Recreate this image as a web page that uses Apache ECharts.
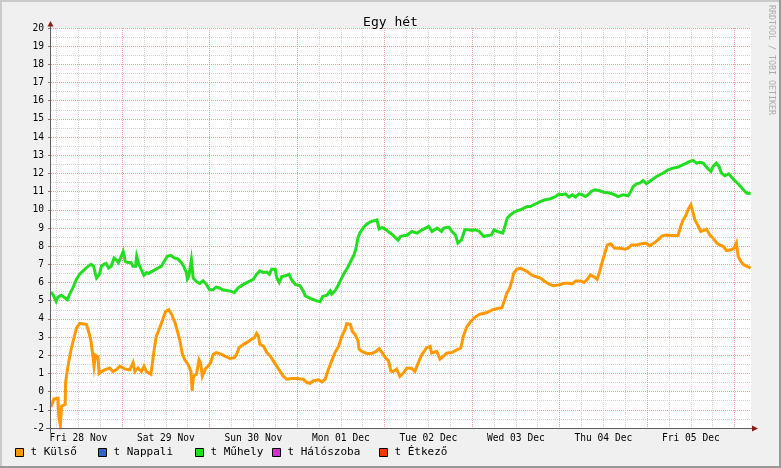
<!DOCTYPE html>
<html>
<head>
<meta charset="utf-8">
<script src="https://cdn.jsdelivr.net/npm/echarts@6/dist/echarts.min.js"></script>
<style>
html,body{margin:0;padding:0;background:#f0f0f0;}
#chart{width:781px;height:468px;}
</style>
</head>
<body>
<div id="chart"></div>
<script>
// hours since Fri 28 Nov 00:00
const kulsoHours = [4.5,5.0,5.3,6.4,6.6,7.06,7.4,8.4,8.5,9.0,9.6,10.1,10.8,11.5,12.4,14.2,14.7,15.4,16.0,16.3,16.7,17.4,17.7,18.3,19.2,20.6,21.5,22.4,23.4,24.7,26.1,27.0,27.5,28.4,29.3,30.0,30.7,31.9,32.2,32.8,33.4,34.3,35.3,35.9,36.8,37.6,38.5,39.2,39.8,40.5,41.2,42.1,42.9,43.2,43.6,44.4,45.1,45.5,46.0,46.5,47.0,47.6,48.3,49.0,49.9,51.3,52.2,53.6,54.8,55.4,56.1,57.3,58.4,59.5,60.3,60.9,61.4,61.8,62.8,63.7,64.6,65.5,66.4,67.3,68.2,69.2,70.5,71.9,73.7,74.7,75.6,76.5,77.9,78.8,79.7,80.6,81.5,82.4,83.4,84.3,85.2,85.6,86.6,87.2,87.9,88.7,89.0,89.9,91.1,92.5,93.6,94.5,95.3,96.2,97.1,97.7,98.4,99.3,100.2,101.1,102.1,103.4,104.3,105.2,106.2,107.5,108.5,108.9,110.3,111.2,112.1,113.0,114.4,115.8,116.9,117.6,118.5,119.4,120.8,122.0,124.1,125.5,126.9,128.2,129.0,129.6,130.3,131.0,131.4,132.2,133.3,134.2,135.1,136.3,137.4,138.8,140.0,141.1,142.4,143.8,145.2,146.6,147.5,148.4,149.8,150.7,151.6,152.5,153.6,154.3,155.0,155.6,156.4,157.1,158.0,159.1,160.5,161.9,162.8,163.7,165.1,166.4,167.8,168.7,169.2,170.1,171.0,172.1,173.3,174.7,176.5,177.2,177.9,178.6,179.3,180.0,180.4,181.1,182.0,182.7,183.4,184.3,185.2,186.1,187.0,187.9,188.9,189.8,191.0,191.9,192.5,193.0,193.7,194.6,195.6,196.4];
const kulsoValues = [-0.85,-0.8,-0.4,-0.35,-1.3,-1.85,-0.8,-0.7,0.5,1.2,1.9,2.4,2.95,3.5,3.75,3.7,3.4,2.85,1.95,1.4,2.0,1.9,1.0,1.1,1.2,1.3,1.1,1.2,1.4,1.25,1.2,1.6,1.1,1.3,1.1,1.4,1.1,0.95,1.4,2.3,3.05,3.5,4.05,4.4,4.5,4.25,3.8,3.3,2.85,2.1,1.75,1.5,1.1,0.05,0.85,0.95,1.75,1.6,0.85,0.75,1.3,1.4,1.6,2.05,2.15,2.05,1.95,1.82,1.87,2.05,2.42,2.6,2.72,2.88,2.97,3.2,3.06,2.6,2.5,2.15,1.96,1.69,1.4,1.13,0.85,0.68,0.72,0.72,0.68,0.5,0.46,0.6,0.65,0.53,0.68,1.23,1.69,2.15,2.5,3.06,3.43,3.74,3.7,3.3,3.15,2.8,2.33,2.2,2.1,2.1,2.2,2.37,2.15,1.87,1.69,1.13,1.11,1.24,0.84,1.02,1.29,1.29,1.11,1.57,2.03,2.4,2.49,2.12,2.21,1.79,1.94,2.12,2.15,2.3,2.4,3.04,3.55,3.8,4.1,4.25,4.35,4.5,4.57,4.62,5.1,5.45,5.69,6.15,6.51,6.73,6.79,6.7,6.61,6.42,6.33,6.24,6.06,5.91,5.82,5.87,5.96,5.96,5.93,6.09,6.09,6.0,6.18,6.42,6.29,6.18,6.61,7.06,7.61,8.07,8.13,7.89,7.89,7.83,7.89,8.07,8.07,8.13,8.17,8.02,7.94,8.2,8.35,8.57,8.62,8.59,8.59,9.08,9.45,9.67,10.04,10.28,10.0,9.45,9.12,8.81,8.86,8.94,8.62,8.44,8.2,8.07,7.98,7.76,7.8,7.89,8.17,7.43,7.16,6.97,6.88,6.79];

const muhelyHours = [4.5,5.0,5.9,6.4,7.3,7.8,8.4,9.0,9.6,10.5,11.4,12.3,13.6,14.4,15.5,16.2,16.6,17.0,17.8,18.3,19.0,19.6,20.3,21.0,21.8,22.4,23.0,23.8,24.3,24.9,25.6,26.4,27.0,27.7,28.0,28.6,29.3,30.0,30.7,31.3,32.1,33.0,33.9,34.8,35.5,36.4,37.3,38.4,39.3,40.2,40.9,41.6,41.9,42.3,43.0,43.5,44.4,45.3,46.2,47.1,48.0,48.9,49.8,50.7,51.6,53.0,53.6,54.8,55.9,57.3,58.6,60.0,60.9,61.8,62.8,63.7,64.4,65.0,66.0,66.4,67.1,67.8,68.9,69.8,70.4,71.5,72.8,73.7,74.2,75.1,76.2,77.4,78.3,79.0,80.2,81.1,81.5,82.4,83.4,84.3,85.0,85.6,86.3,87.0,87.5,88.1,88.7,89.3,90.2,91.1,92.1,93.0,93.9,94.5,95.3,96.2,97.1,98.0,98.9,99.7,100.3,101.2,102.1,103.5,104.9,106.3,108.1,109.0,110.4,111.6,112.2,113.6,114.5,115.4,116.1,117.1,118.0,119.1,120.0,120.9,122.0,123.2,124.1,125.3,126.0,126.9,128.4,129.0,129.6,130.5,131.4,132.4,133.3,134.2,135.1,136.0,136.9,137.9,138.8,140.1,141.5,142.9,143.8,144.7,145.6,146.6,147.5,148.4,149.3,150.2,151.1,151.8,152.7,153.6,155.0,156.4,157.7,159.1,160.0,161.4,162.8,163.5,164.2,165.1,166.0,166.9,167.8,168.7,169.6,170.6,171.5,172.4,173.8,175.1,176.5,177.9,178.8,179.7,180.6,181.6,182.5,183.4,184.0,184.8,185.5,186.1,187.0,187.7,188.4,189.3,190.4,191.4,192.3,193.2,194.4,195.3,196.4];
const muhelyValues = [5.47,5.35,4.97,5.2,5.3,5.4,5.15,5.05,5.35,5.7,6.15,6.45,6.7,6.85,7.0,6.9,6.55,6.25,6.45,6.9,7.0,7.05,6.8,6.9,7.35,7.25,7.1,7.45,7.7,7.15,7.1,7.1,6.9,6.9,7.45,7.0,6.7,6.4,6.55,6.5,6.6,6.7,6.8,6.9,7.15,7.45,7.5,7.35,7.3,7.1,6.9,6.55,6.2,6.35,7.25,6.25,6.05,5.95,6.1,5.9,5.6,5.6,5.75,5.7,5.6,5.55,5.54,5.45,5.72,5.9,6.04,6.18,6.46,6.64,6.55,6.58,6.46,6.73,6.73,6.28,6.0,6.33,6.37,6.46,6.18,5.9,5.82,5.54,5.27,5.18,5.08,4.99,4.94,5.23,5.3,5.54,5.36,5.54,5.9,6.28,6.55,6.73,7.0,7.28,7.47,7.83,8.48,8.75,9.03,9.21,9.34,9.39,9.45,8.94,9.03,8.94,8.79,8.66,8.48,8.33,8.53,8.57,8.6,8.81,8.72,8.9,9.08,8.81,8.99,8.81,8.99,9.05,8.81,8.62,8.17,8.35,8.9,8.9,8.86,8.9,8.81,8.53,8.57,8.62,8.9,8.81,8.72,9.08,9.54,9.72,9.85,9.96,10.0,10.09,10.18,10.18,10.28,10.37,10.46,10.55,10.61,10.73,10.86,10.83,10.88,10.7,10.83,10.7,10.88,10.83,10.73,10.83,11.01,11.1,11.05,10.95,10.92,10.83,10.73,10.83,10.77,11.01,11.28,11.43,11.47,11.61,11.43,11.56,11.69,11.83,11.93,12.02,12.2,12.29,12.35,12.48,12.57,12.66,12.72,12.57,12.61,12.57,12.42,12.24,12.11,12.39,12.57,12.39,12.02,11.87,11.98,11.74,11.56,11.38,11.1,10.92,10.88];

const seriesNames = ['t Külső','t Nappali','t Műhely','t Hálószoba','t Étkező'];
const seriesColors = ['#ff9900','#3366cc','#22dd22','#cc33cc','#ff3300'];
const legendLefts = [15,98,195,272,379];

const dayLabels = ['Fri 28 Nov','Sat 29 Nov','Sun 30 Nov','Mon 01 Dec','Tue 02 Dec','Wed 03 Dec','Thu 04 Dec','Fri 05 Dec'];
const noonHours = [12,36,60,84,108,132,156,180];
const midnightHours = [24,48,72,96,120,144,168,192];
const sixHourTicks = [6,12,18,30,36,42,54,60,66,78,84,90,102,108,114,126,132,138,150,156,162,174,180,186];
const xMin = 4.5, xMax = 196.5;
const yMin = -2, yMax = 20;

const FONT = 'DejaVu Sans Mono';

function zip(h, v){ return h.map((x,i)=>[x, v[i]]); }
const seriesData = [zip(kulsoHours,kulsoValues), [], zip(muhelyHours,muhelyValues), [], []];

const chart = echarts.init(document.getElementById('chart'), null, {renderer:'canvas'});

const option = {
  backgroundColor: '#f0f0f0',
  animation: false,
  title: {
    text: 'Egy hét', left: 'center', top: 11,
    textStyle: {fontFamily: FONT, fontSize: 13, fontWeight: 'normal', color: '#000'}
  },
  grid: {left: 51, top: 28, width: 700, height: 400, show: true, backgroundColor: '#ffffff', borderWidth: 0},
  xAxis: [
    {
      type: 'value', min: xMin, max: xMax, position: 'bottom',
      axisLine: {show: false},
      axisTick: {show: false, customValues: sixHourTicks},
      axisLabel: {show: false},
      splitLine: {show: true, lineStyle: {color: '#d4d4d4', width: 1, type: [1,1]}}
    },
    {
      type: 'value', min: xMin, max: xMax, position: 'bottom',
      axisLine: {show: false},
      axisTick: {show: false, customValues: midnightHours},
      axisLabel: {
        show: true, customValues: noonHours, margin: 5,
        fontFamily: FONT, fontSize: 9.6, color: '#000',
        formatter: function(v){ const i = noonHours.indexOf(v); return i >= 0 ? dayLabels[i] : ''; }
      },
      splitLine: {show: true, lineStyle: {color: '#f0a0a0', width: 1, type: [1,1]}}
    }
  ],
  yAxis: {
    type: 'value', min: yMin, max: yMax, interval: 1,
    axisLine: {show: false},
    axisTick: {show: true, length: 3, inside: false, lineStyle: {color: '#777'}},
    axisLabel: {fontFamily: FONT, fontSize: 9.6, color: '#000', margin: 7},
    splitLine: {show: true, lineStyle: {color: '#f0a0a0', width: 1, type: [1,1]}},
    minorTick: {show: false, splitNumber: 2},
    minorSplitLine: {show: true, lineStyle: {color: '#d4d4d4', width: 1, type: [1,1]}}
  },
  legend: legendLefts.map((l, i) => ({
    data: [seriesNames[i]], left: l, top: 447, icon: 'rect', padding: 0,
    itemWidth: 8, itemHeight: 8, selectedMode: false,
    itemStyle: {borderColor: '#000', borderWidth: 1},
    textStyle: {fontFamily: FONT, fontSize: 11, color: '#000', padding: [0,0,0,2]}
  })),
  series: seriesNames.map((n, i) => ({
    name: n, type: 'line', xAxisIndex: 1, yAxisIndex: 0,
    data: seriesData[i], showSymbol: false, symbol: 'none',
    color: seriesColors[i],
    itemStyle: {color: seriesColors[i]},
    lineStyle: {color: seriesColors[i], width: 3, join: 'miter'},
    z: 3
  })),
  graphic: [
    {type: 'rect', shape: {x: 0, y: 0, width: 781, height: 2}, style: {fill: '#cbcbcb'}, silent: true},
    {type: 'rect', shape: {x: 0, y: 0, width: 2, height: 468}, style: {fill: '#cbcbcb'}, silent: true},
    {type: 'rect', shape: {x: 779, y: 0, width: 2, height: 468}, style: {fill: '#999999'}, silent: true},
    {type: 'rect', shape: {x: 0, y: 466, width: 781, height: 2}, style: {fill: '#999999'}, silent: true},
    {type: 'line', shape: {x1: 50.5, y1: 433, x2: 50.5, y2: 24}, style: {stroke: '#606060', lineWidth: 1}, z: 10, silent: true},
    {type: 'line', shape: {x1: 46, y1: 428.5, x2: 754, y2: 428.5}, style: {stroke: '#606060', lineWidth: 1}, z: 10, silent: true},
    {type: 'polygon', shape: {points: [[47.5,26.5],[53.5,26.5],[50.5,21]]}, style: {fill: '#8b1a1a'}, z: 11, silent: true},
    {type: 'polygon', shape: {points: [[752,425.5],[752,431.5],[758,428.5]]}, style: {fill: '#8b1a1a'}, z: 11, silent: true},
    {type: 'text', x: 771.5, y: 5, rotation: -Math.PI/2, silent: true,
     style: {text: 'RRDTOOL / TOBI OETIKER', fill: '#acacac', font: '8.3px "DejaVu Sans Mono"', textVerticalAlign: 'middle', textAlign: 'left'}}
  ]
};
chart.setOption(option);
</script>
</body>
</html>
